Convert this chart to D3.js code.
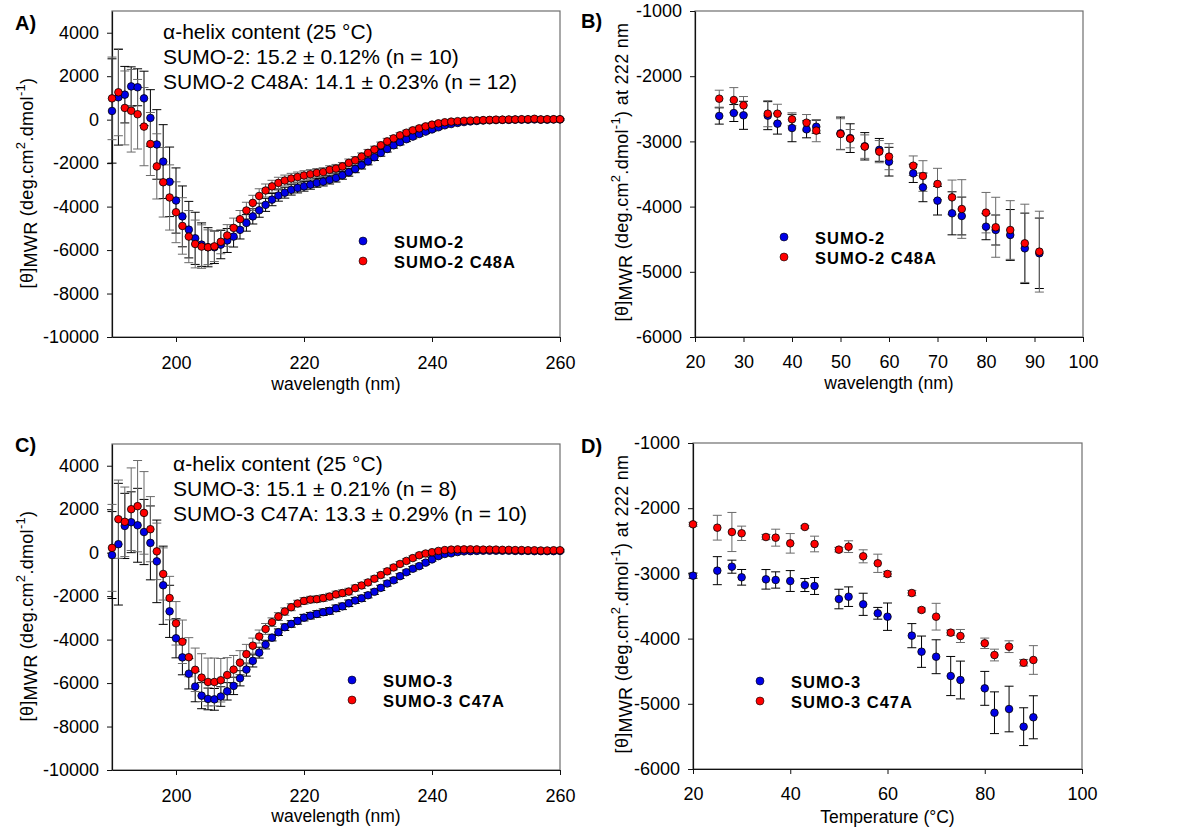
<!DOCTYPE html>
<html>
<head>
<meta charset="utf-8">
<script src="https://cdn.jsdelivr.net/npm/d3@7"></script>
<style>
  body { margin: 0; background: #fff; }
  svg text { font-family: "Liberation Sans", Arial, sans-serif; fill: #000; }
</style>
</head>
<body>
<div id="chart"></div>
<script>
// ---- data ----

// CD spectra (A, C): 1 nm steps
var wavelength = [190,191,192,193,194,195,196,197,198,199,
  200,201,202,203,204,205,206,207,208,209,
  210,211,212,213,214,215,216,217,218,219,
  220,221,222,223,224,225,226,227,228,229,
  230,231,232,233,234,235,236,237,238,239,
  240,241,242,243,244,245,246,247,248,249,
  250,251,252,253,254,255,256,257,258,259,260];

var specSumo2 = [400,1030,1150,1530,1490,980,80,-1140,-1930,-2860,
  -3720,-4450,-5060,-5460,-5750,-5870,-5870,-5750,-5560,-5380,
  -5070,-4750,-4450,-4170,-3920,-3680,-3490,-3360,-3230,-3140,
  -3070,-2990,-2910,-2850,-2770,-2680,-2560,-2420,-2270,-2100,
  -1920,-1730,-1530,-1350,-1180,-1040,-900,-780,-660,-550,
  -450,-350,-260,-200,-150,-110,-80,-60,-40,-30,
  -20,-10,-10,0,0,0,10,0,0,10,10];
var errSumo2 = [2400,2200,1300,900,850,1250,1300,1600,1700,1600,
  1500,1400,1300,1200,1000,900,750,650,550,480,
  420,380,350,320,300,280,260,250,240,230,
  220,210,200,200,190,190,180,180,170,170,
  160,150,150,140,130,120,110,100,100,90,
  90,80,80,70,70,60,60,60,50,50,
  50,50,40,40,40,40,40,40,40,40,40];

var specSumo2C48A = [980,1260,540,410,250,-320,-1120,-2150,-2880,-3580,
  -4260,-4890,-5380,-5720,-5840,-5870,-5830,-5620,-5330,-4980,
  -4580,-4180,-3830,-3510,-3260,-3070,-2910,-2800,-2710,-2640,
  -2570,-2510,-2450,-2410,-2310,-2250,-2150,-1990,-1870,-1700,
  -1530,-1370,-1180,-1000,-860,-720,-600,-490,-400,-310,
  -230,-170,-120,-90,-70,-50,-40,-30,-20,-10,
  0,0,10,10,20,20,40,10,20,20,20];
var errSumo2C48A = [1900,2000,1700,1900,1600,1800,1450,1500,1600,1500,
  1400,1300,1200,1100,1000,800,700,550,500,450,
  400,380,350,330,300,280,260,250,240,230,
  220,210,200,200,190,190,180,180,170,170,
  160,150,150,140,130,120,110,100,100,90,
  90,80,80,70,70,60,60,60,50,50,
  50,50,40,40,40,40,40,40,40,40,40];

var specSumo3 = [-110,390,1230,1400,1260,950,450,-400,-1500,-2700,
  -3940,-4820,-5570,-6160,-6580,-6730,-6750,-6620,-6380,-6130,
  -5780,-5380,-4980,-4600,-4230,-3910,-3660,-3430,-3280,-3140,
  -2990,-2900,-2820,-2740,-2680,-2560,-2470,-2330,-2200,-2100,
  -1960,-1800,-1620,-1420,-1270,-1080,-900,-740,-620,-460,
  -310,-160,-60,-30,30,60,70,80,90,90,
  90,90,90,80,80,80,70,70,70,70,80];
var errSumo3 = [2000,2800,1500,1400,1700,1500,1700,1900,1800,1200,
  900,800,700,700,600,500,500,450,400,400,
  350,300,280,250,200,150,150,150,150,150,
  150,150,150,150,150,150,150,150,140,140,
  120,120,120,120,110,110,100,100,100,90,
  80,80,80,70,70,70,60,60,60,60,
  50,50,50,50,50,50,50,50,50,50,50];

var specSumo3C47A = [220,1540,1420,2000,2140,1830,1080,60,-980,-2090,
  -3250,-4100,-4810,-5390,-5750,-5950,-5950,-5870,-5630,-5380,
  -5060,-4670,-4280,-3860,-3510,-3200,-2940,-2710,-2510,-2340,
  -2220,-2160,-2140,-2090,-2020,-1920,-1860,-1790,-1630,-1510,
  -1370,-1200,-1030,-860,-680,-520,-380,-250,-120,-40,
  20,80,120,140,150,150,150,150,140,140,
  140,130,130,120,120,110,110,100,100,110,110];
var errSumo3C47A = [2000,1800,1600,1900,2100,1900,1500,1300,1200,1000,
  1000,1000,900,1000,1100,1100,1100,1000,800,650,
  550,450,350,300,250,200,180,170,160,150,
  150,150,150,150,150,150,150,150,140,140,
  120,120,120,120,110,110,100,100,100,90,
  80,80,80,70,70,70,60,60,60,60,
  50,50,50,50,50,50,50,50,50,50,50];

// thermal melts at 222 nm (B, D)
var tempB = [25,28,30,35,37,40,43,45,50,52,55,58,60,65,67,70,73,75,80,82,85,88,91];
var meltSumo2 = [-2610,-2565,-2600,-2605,-2728,-2795,-2815,-2775,-2877,-2950,
  -3075,-3130,-3311,-3490,-3705,-3909,-4103,-4144,-4308,-4359,-4435,-4640,-4716];
var meltErrSumo2 = [125,130,215,215,160,210,130,100,250,220,
  210,175,220,140,220,220,330,290,200,230,390,540,540];
var meltSumo2C48A = [-2345,-2365,-2447,-2575,-2575,-2661,-2713,-2835,-2887,-2958,
  -3080,-3157,-3234,-3373,-3531,-3653,-3858,-4037,-4093,-4317,-4359,-4563,-4691];
var meltErrSumo2C48A = [130,190,135,200,145,100,125,170,235,140,
  180,170,200,150,235,240,265,450,310,460,450,600,620];

var tempD = [20,25,28,30,35,37,40,43,45,50,52,55,58,60,65,67,70,73,75,80,82,85,88,90];
var meltSumo3 = [-3035,-2958,-2897,-3060,-3091,-3101,-3117,-3178,-3193,-3393,
  -3357,-3474,-3612,-3664,-3955,-4201,-4278,-4574,-4635,-4763,-5137,-5080,-5351,-5207];
var meltErrSumo3 = [40,215,100,120,150,125,160,100,130,150,
  150,170,90,210,185,240,260,300,290,260,320,350,290,330];
var meltSumo3C47A = [-2247,-2299,-2365,-2385,-2442,-2452,-2539,-2288,-2549,-2636,
  -2590,-2738,-2845,-3009,-3301,-3561,-3664,-3909,-3960,-4072,-4252,-4124,-4370,-4328];
var meltErrSumo3C47A = [30,190,300,110,40,130,150,20,120,35,
  90,100,140,40,40,30,205,40,100,80,90,90,50,220];

var specYTicks = [-10000,-8000,-6000,-4000,-2000,0,2000,4000];
var specXTicks = [200,220,240,260];
var meltYTicks = [-6000,-5000,-4000,-3000,-2000,-1000];
var meltXTicksB = [20,30,40,50,60,70,80,90,100];
var meltXTicksD = [20,40,60,80,100];

var helixA = ["\u03b1-helix content (25 \u00b0C)",
  "SUMO-2: 15.2 \u00b1 0.12% (n = 10)",
  "SUMO-2 C48A: 14.1 \u00b1 0.23% (n = 12)"];
var helixC = ["\u03b1-helix content (25 \u00b0C)",
  "SUMO-3: 15.1 \u00b1 0.21% (n = 8)",
  "SUMO-3 C47A: 13.3 \u00b1 0.29% (n = 10)"];

// ---- drawing ----
var BLUE = "#0000e6", RED = "#ff0000";

var svg = d3.select("#chart").append("svg")
  .attr("width", 1190)
  .attr("height", 832);

function zip(xs, ys, es) {
  return xs.map(function(x, i) { return {x: x, y: ys[i], e: es[i]}; });
}

function drawPanel(p) {
  var x = d3.scaleLinear().domain(p.xDomain).range([p.left, p.right]);
  var y = d3.scaleLinear().domain(p.yDomain).range([p.bottom, p.top]);
  var g = svg.append("g");

  // frame
  g.append("rect")
    .attr("x", p.left).attr("y", p.top)
    .attr("width", p.right - p.left).attr("height", p.bottom - p.top)
    .attr("fill", "none").attr("stroke", "#6e6e6e").attr("stroke-width", 1.2);

  var xAxis = g.append("g")
    .attr("transform", "translate(0," + p.bottom + ")")
    .call(d3.axisBottom(x).tickValues(p.xTicks).tickSize(5).tickSizeOuter(0)
      .tickPadding(p.xPad).tickFormat(function(d) { return String(d); }));
  var yAxis = g.append("g")
    .attr("transform", "translate(" + p.left + ",0)")
    .call(d3.axisLeft(y).tickValues(p.yTicks).tickSize(5).tickSizeOuter(0)
      .tickPadding(8).tickFormat(function(d) { return String(d); }));
  [xAxis, yAxis].forEach(function(a) {
    a.selectAll("text").style("font-size", "18px");
    a.select(".domain").attr("stroke", "#111").attr("stroke-width", 1.2);
    a.selectAll(".tick line").attr("stroke", "#111");
  });

  // error bars, then points (red on top)
  p.series.forEach(function(s) {
    var bars = g.append("g").attr("stroke", s.bar).attr("stroke-width", 1);
    var pts = zip(s.x, s.y, s.e);
    bars.selectAll("line.v").data(pts).enter().append("line")
      .attr("x1", d => x(d.x)).attr("x2", d => x(d.x))
      .attr("y1", d => y(d.y + d.e)).attr("y2", d => y(d.y - d.e));
    bars.selectAll("line.t").data(pts).enter().append("line")
      .attr("x1", d => x(d.x) - 4.5).attr("x2", d => x(d.x) + 4.5)
      .attr("y1", d => y(d.y + d.e)).attr("y2", d => y(d.y + d.e));
    bars.selectAll("line.b").data(pts).enter().append("line")
      .attr("x1", d => x(d.x) - 4.5).attr("x2", d => x(d.x) + 4.5)
      .attr("y1", d => y(d.y - d.e)).attr("y2", d => y(d.y - d.e));
  });
  p.series.forEach(function(s) {
    g.append("g").selectAll("circle")
      .data(zip(s.x, s.y, s.e)).enter().append("circle")
      .attr("cx", d => x(d.x)).attr("cy", d => y(d.y))
      .attr("r", 3.8)
      .attr("fill", s.fill).attr("stroke", "#000").attr("stroke-width", 0.8);
  });

  // axis titles
  g.append("text")
    .attr("x", (p.left + p.right) / 2).attr("y", p.xTitleY)
    .attr("text-anchor", "middle").style("font-size", "17.5px")
    .text(p.xTitle);

  var yt = g.append("text")
    .attr("transform", "translate(" + p.yTitleX + "," + p.yTitleY + ") rotate(-90)")
    .attr("text-anchor", "middle").style("font-size", "18px")
    .style("letter-spacing", "0.3px");
  yt.append("tspan").text("[\u03b8]");
  yt.append("tspan").attr("dy", 4).text("MWR");
  yt.append("tspan").attr("dy", -4).text(" (deg.cm");
  yt.append("tspan").attr("dy", -8).style("font-size", "13px").text("2");
  yt.append("tspan").attr("dy", 8).text(".dmol");
  yt.append("tspan").attr("dy", -8).style("font-size", "13px").text("-1");
  yt.append("tspan").attr("dy", 8).text(")" + (p.yTitleExtra || ""));

  // panel letter
  g.append("text")
    .attr("x", p.letterX).attr("y", p.letterY)
    .style("font-size", "20px").style("font-weight", "bold")
    .text(p.letter);

  // helix annotation
  if (p.note) {
    g.selectAll("text.note").data(p.note).enter().append("text")
      .attr("class", "note")
      .attr("x", p.noteX).attr("y", (d, i) => p.noteY + i * 25)
      .style("font-size", "21px")
      .text(d => d);
  }

  // legend
  p.series.forEach(function(s, i) {
    var ly = p.legY + i * 20;
    g.append("circle").attr("cx", p.legX).attr("cy", ly).attr("r", 4)
      .attr("fill", s.fill).attr("stroke", "#000").attr("stroke-width", 0.6);
    g.append("text").attr("x", p.legX + 31).attr("y", ly + 6.5)
      .style("font-size", "16.5px").style("font-weight", "bold")
      .style("letter-spacing", "1px")
      .text(s.name);
  });
}

drawPanel({
  left: 112, right: 560, top: 11, bottom: 337,
  xDomain: [190, 260], yDomain: [-10000, 5000],
  xTicks: specXTicks, yTicks: specYTicks, xPad: 14,
  xTitle: "wavelength (nm)", xTitleY: 390,
  yTitleX: 33, yTitleY: 183,
  letter: "A)", letterX: 15, letterY: 30,
  note: helixA, noteX: 163, noteY: 39,
  legX: 363, legY: 241,
  series: [
    {name: "SUMO-2", x: wavelength, y: specSumo2, e: errSumo2, fill: BLUE, bar: "#000"},
    {name: "SUMO-2 C48A", x: wavelength, y: specSumo2C48A, e: errSumo2C48A, fill: RED, bar: "#6a6a6a"}
  ]
});

drawPanel({
  left: 695, right: 1083, top: 11, bottom: 337,
  xDomain: [20, 100], yDomain: [-6000, -1000],
  xTicks: meltXTicksB, yTicks: meltYTicks, xPad: 13,
  xTitle: "wavelength (nm)", xTitleY: 389,
  yTitleX: 628, yTitleY: 172, yTitleExtra: " at 222 nm",
  letter: "B)", letterX: 581, letterY: 28,
  legX: 784, legY: 237,
  series: [
    {name: "SUMO-2", x: tempB, y: meltSumo2, e: meltErrSumo2, fill: BLUE, bar: "#000"},
    {name: "SUMO-2 C48A", x: tempB, y: meltSumo2C48A, e: meltErrSumo2C48A, fill: RED, bar: "#6a6a6a"}
  ]
});

drawPanel({
  left: 112, right: 560, top: 444, bottom: 770,
  xDomain: [190, 260], yDomain: [-10000, 5000],
  xTicks: specXTicks, yTicks: specYTicks, xPad: 14,
  xTitle: "wavelength (nm)", xTitleY: 822,
  yTitleX: 33, yTitleY: 616,
  letter: "C)", letterX: 15, letterY: 452,
  note: helixC, noteX: 173, noteY: 471,
  legX: 352, legY: 680,
  series: [
    {name: "SUMO-3", x: wavelength, y: specSumo3, e: errSumo3, fill: BLUE, bar: "#000"},
    {name: "SUMO-3 C47A", x: wavelength, y: specSumo3C47A, e: errSumo3C47A, fill: RED, bar: "#6a6a6a"}
  ]
});

drawPanel({
  left: 693, right: 1082, top: 443, bottom: 769,
  xDomain: [20, 100], yDomain: [-6000, -1000],
  xTicks: meltXTicksD, yTicks: meltYTicks, xPad: 13,
  xTitle: "Temperature (\u00b0C)", xTitleY: 823,
  yTitleX: 628, yTitleY: 604, yTitleExtra: " at 222 nm",
  letter: "D)", letterX: 581, letterY: 453,
  legX: 760, legY: 681,
  series: [
    {name: "SUMO-3", x: tempD, y: meltSumo3, e: meltErrSumo3, fill: BLUE, bar: "#000"},
    {name: "SUMO-3 C47A", x: tempD, y: meltSumo3C47A, e: meltErrSumo3C47A, fill: RED, bar: "#6a6a6a"}
  ]
});
</script>
</body>
</html>
